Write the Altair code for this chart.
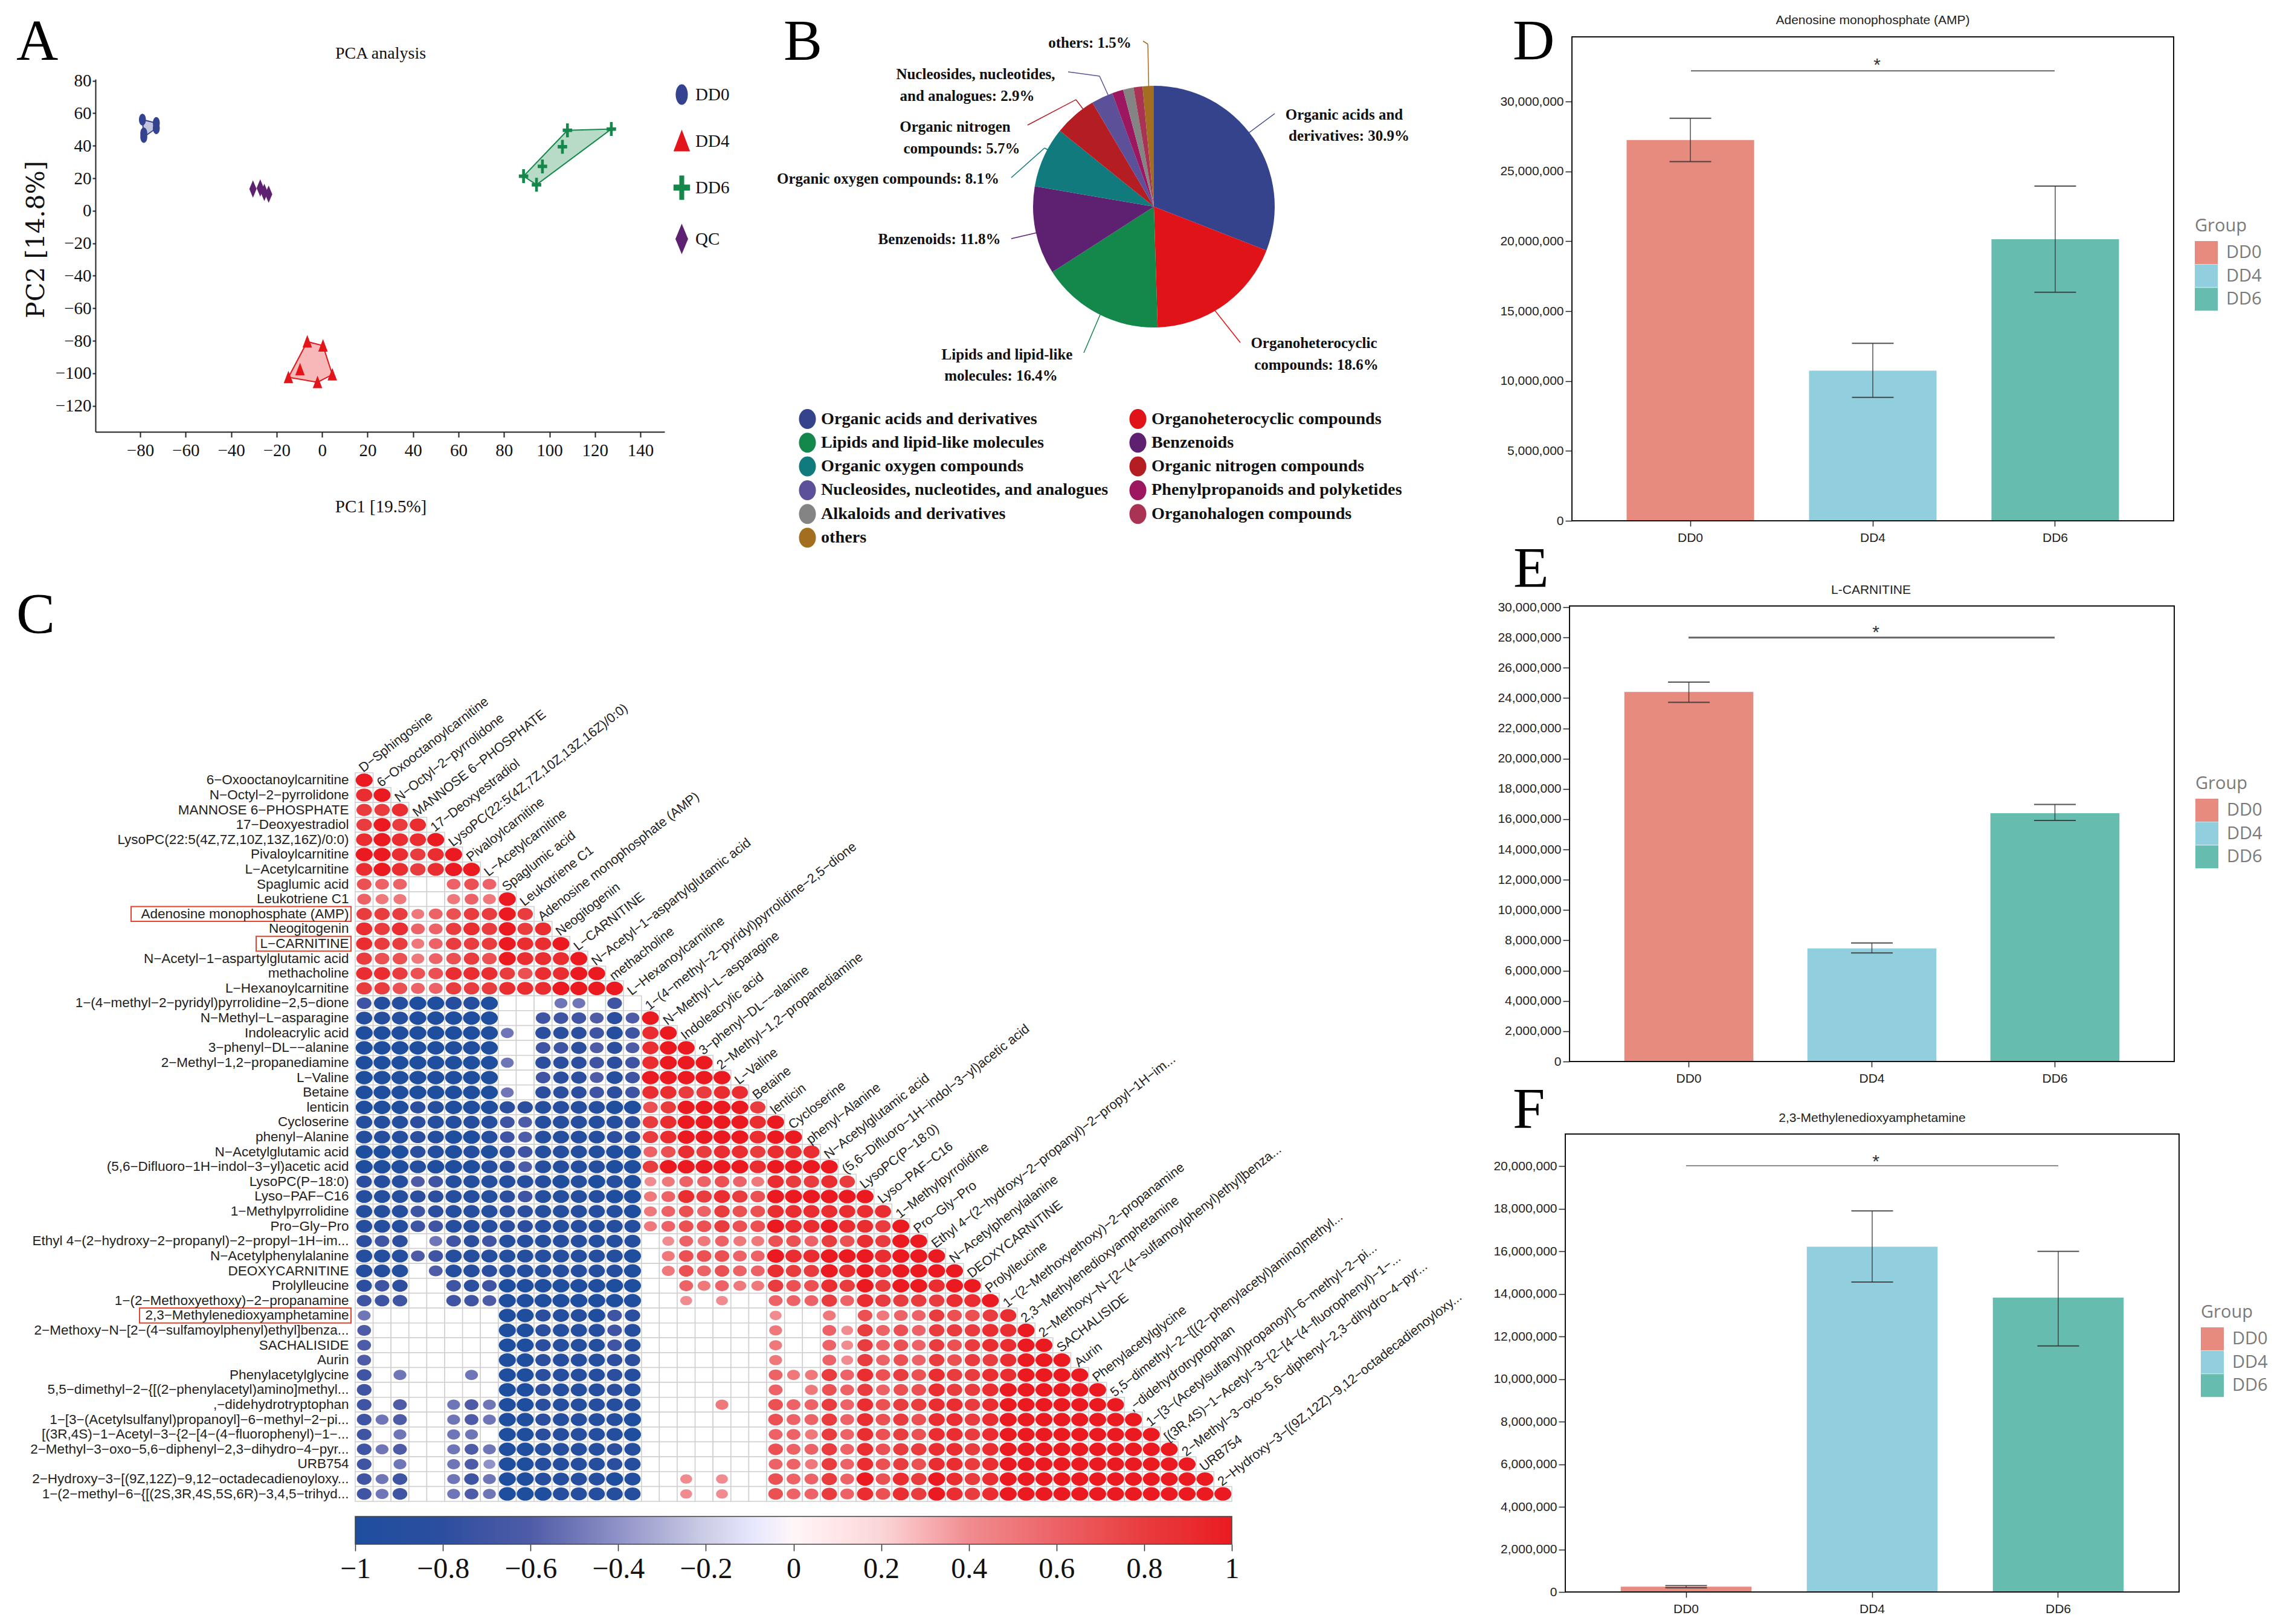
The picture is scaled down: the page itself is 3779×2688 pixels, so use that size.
import altair as alt
import pandas as pd

W, H = 3763, 2672
def X(p): return p - 8
def Y(p): return p - 8

SERIF = "Liberation Serif"
SANS = "Liberation Sans"
OPEN = "Open Sans"

# ---------- Panel A values ----------
pca_groups = ["DD0", "DD4", "DD6", "QC"]
pca_colors = ["#33438F", "#E3151B", "#14884A", "#5E2171"]
dd0_x = [-79, -78.4, -78.4, -72.9, -72.9]
dd0_y = [56.1, 47.6, 45.4, 54, 50.8]
dd4_x = [-6.5, 0.4, -9.7, -14.8, -2, 4.5]
dd4_y = [-80.5, -83, -97.6, -102.5, -105.5, -100.8]
dd6_x = [88.6, 94.3, 96.9, 105.7, 107.9, 127.2]
dd6_y = [21.3, 16, 27.3, 39.4, 49.5, 50.3]
qc_x = [-30.4, -27.2, -25.4, -23.5]
qc_y = [13.4, 14, 11.3, 10.2]
hull_dd0 = ([-79, -72.9, -72.9, -78.4], [56.1, 54, 50.8, 45.4])
hull_dd4 = ([-6.5, 0.4, 4.5, -2, -14.8], [-80.5, -83, -100.8, -105.5, -102.5])
hull_dd6 = ([88.6, 107.9, 127.2, 94.3], [21.3, 49.5, 50.3, 16])

# ---------- Panel B values ----------
pie_cats = ["Organic acids and derivatives", "Organoheterocyclic compounds",
            "Lipids and lipid-like molecules", "Benzenoids",
            "Organic oxygen compounds", "Organic nitrogen compounds",
            "Nucleosides, nucleotides, and analogues", "Phenylpropanoids and polyketides",
            "Alkaloids and derivatives", "Organohalogen compounds", "others"]
pie_vals = [30.9, 18.6, 16.4, 11.8, 8.1, 5.7, 2.9, 1.5, 1.4, 1.2, 1.5]
pie_colors = ["#34438B", "#E01318", "#14884A", "#5E2171", "#107A7C", "#B41E23",
              "#5C5098", "#9C1660", "#848484", "#A83353", "#A36E20"]

# ---------- Panel C values ----------
row_names = ["6−Oxooctanoylcarnitine", "N−Octyl−2−pyrrolidone", "MANNOSE 6−PHOSPHATE", "17−Deoxyestradiol",
             "LysoPC(22:5(4Z,7Z,10Z,13Z,16Z)/0:0)", "Pivaloylcarnitine", "L−Acetylcarnitine", "Spaglumic acid",
             "Leukotriene C1", "Adenosine monophosphate (AMP)", "Neogitogenin", "L−CARNITINE",
             "N−Acetyl−1−aspartylglutamic acid", "methacholine", "L−Hexanoylcarnitine",
             "1−(4−methyl−2−pyridyl)pyrrolidine−2,5−dione", "N−Methyl−L−asparagine", "Indoleacrylic acid",
             "3−phenyl−DL−−alanine", "2−Methyl−1,2−propanediamine", "L−Valine", "Betaine", "lenticin", "Cycloserine",
             "phenyl−Alanine", "N−Acetylglutamic acid", "(5,6−Difluoro−1H−indol−3−yl)acetic acid", "LysoPC(P−18:0)",
             "Lyso−PAF−C16", "1−Methylpyrrolidine", "Pro−Gly−Pro", "Ethyl 4−(2−hydroxy−2−propanyl)−2−propyl−1H−im...",
             "N−Acetylphenylalanine", "DEOXYCARNITINE", "Prolylleucine", "1−(2−Methoxyethoxy)−2−propanamine",
             "2,3−Methylenedioxyamphetamine", "2−Methoxy−N−[2−(4−sulfamoylphenyl)ethyl]benza...", "SACHALISIDE", "Aurin",
             "Phenylacetylglycine", "5,5−dimethyl−2−{[(2−phenylacetyl)amino]methyl...", ",−didehydrotryptophan",
             "1−[3−(Acetylsulfanyl)propanoyl]−6−methyl−2−pi...", "[(3R,4S)−1−Acetyl−3−{2−[4−(4−fluorophenyl)−1−...",
             "2−Methyl−3−oxo−5,6−diphenyl−2,3−dihydro−4−pyr...", "URB754", "2−Hydroxy−3−[(9Z,12Z)−9,12−octadecadienoyloxy...",
             "1−(2−methyl−6−{[(2S,3R,4S,5S,6R)−3,4,5−trihyd..."]
col_names = ["D−Sphingosine"] + row_names[:-1]
# digit = +r*10, X = +1, letter a..j = -0.1..-1.0, dot = blank cell
corr_rows = [
    "X", "9X", "889", "8X89", "9X99X", "XX989X", "9X989XX", "766..676", "655..565X",
    "88856788X8", "98966898X89", "98856888X99X", "87756787X999X", "998779998799XX",
    "88766888999XXXX", "giijjiij...ee.g.", "iiijjjjj..gggfhfX", "jjjjjjjje.hhhgig9X",
    "jjjjjjjj..gghfhf9XX", "jjjjjjjje.hhhghg9XXX", "jjjjjjjj..ghhfigXXXXX",
    "jjjjjjjje.hhhghg998899", "jjjhijjjhhiiiijj78XXXX8", "iiihiiiigfiiiiih89XXXX9X",
    "iiihijjigfiiiihh89XXXX9XX", "jjjhijijhgiiiijj6798998999", "jjjijjjihfiiiijj8XXXXX9XXXX",
    "hiifgiiiiiijijij456676598898", "iiihhiiihgiiiijj5698987XXXXXX", "iiighiiihhiiiiij56768779999999",
    "iiiggiiihhiiiiii5677877X99X998X", "hgh.eghgiiiiiiii.4656557768798XX",
    "iiifgiiiiiiiiiij.577766X99XXX9XXX", "iii.fiihiiiiiiij.576766988X9X9XXXX",
    "hgh..ghgjjjjjjjj..6565587798X8XX9XX", "ggg..ggfjjjjjjjj..4.4..666869888899X",
    "e.......jjhiijgh.......4..5.756687789", "f.......jjhiiigi.......5..64867688899X",
    "f.......jjhiiigi.......5..64867687899XX", "f.......jjhiiihh.......5..64867687889XXX",
    "g.e...e.jjhiiihi.......65586978798899XXXX", "g.......jjhiiihi.......6.57686779889XXXXXX",
    "g.f..efejjhiiiii....5..7668697889989XXXXXXX", "gef..efejjhiiiij.......7668697879989XXXXXXXX",
    "g.e..ee.jjhiiiij.......6658697879989XXXXXXXXX", "gef..efejjiiiihi.......7668697889989XXXXXXXXXX",
    "g.e..efdjjiiiihi.......6658697879989XXXXXXXXXXX", "geg..egejjiiiiji..4.4..76686X798X989XXXXXXXXXXXX",
    "geg..efejjjiiiii..4.4..766869798X989XXXXXXXXXXXXX",
]
boxed_rows = {"Adenosine monophosphate (AMP)": 217, "L−CARNITINE": 424, "2,3−Methylenedioxyamphetamine": 231}
cbar_ticks = [-1, -0.8, -0.6, -0.4, -0.2, 0, 0.2, 0.4, 0.6, 0.8, 1]
cbar_colors = ["#1F4E9F", "#2C4E9F", "#4E5CA7", "#8F92C7", "#CDCEE6", "#FFFFFF",
               "#FAD6D8", "#F08C90", "#EC6266", "#E83C3E", "#EA1A20"]

# ---------- Panels D, E, F values ----------
bar_groups = ["DD0", "DD4", "DD6"]
bar_colors = ["#E68B7E", "#92CFDE", "#67BCB0"]
amp_mean = [27.25e6, 10.74e6, 20.15e6]
amp_low = [25.7e6, 8.83e6, 16.35e6]
amp_high = [28.8e6, 12.7e6, 23.95e6]
car_mean = [24.41e6, 7.47e6, 16.4e6]
car_low = [23.72e6, 7.17e6, 15.92e6]
car_high = [25.05e6, 7.83e6, 16.97e6]
mda_mean = [0.246e6, 16.22e6, 13.83e6]
mda_low = [0.2e6, 14.56e6, 11.56e6]
mda_high = [0.3e6, 17.9e6, 16.0e6]

dummy = pd.DataFrame({"a": [0]})
L = []

def label(text, x, y, size, font=SERIF, weight="normal", align="center", baseline="middle", color="#111111", angle=None):
    kw = dict(text=text, font=font, fontSize=size, fontWeight=weight, align=align, baseline=baseline, color=color)
    if angle is not None:
        kw["angle"] = angle
    return alt.Chart(dummy).mark_text(**kw).encode(x=alt.value(X(x)), y=alt.value(Y(y)))

def seg(x1, y1, x2, y2, color, width=1.5):
    return alt.Chart(dummy).mark_rule(color=color, strokeWidth=width).encode(
        x=alt.value(X(x1)), y=alt.value(Y(y1)), x2=alt.value(X(x2)), y2=alt.value(Y(y2)))

# ---------- Letters ----------
for t, x, y in [("A", 27, 99), ("B", 1297, 99), ("C", 27, 1048), ("D", 2504, 99), ("E", 2505, 972), ("F", 2504, 1867)]:
    L.append(label(t, x, y, 96, align="left", baseline="alphabetic", color="#000000"))

# ---------- Panel A ----------
ax = alt.Scale(domain=[-99.66, 150.6], range=[X(158), X(1100)], nice=False, zero=False)
ay = alt.Scale(domain=[-136, 81], range=[Y(714.7), Y(131)], nice=False, zero=False)
for (hx, hy), col in [(hull_dd0, pca_colors[0]), (hull_dd4, pca_colors[1]), (hull_dd6, pca_colors[2])]:
    hd = pd.DataFrame({"x": hx, "y": hy, "i": range(len(hx))})
    L.append(alt.Chart(hd).mark_line(interpolate="linear-closed", color=col, fill=col, fillOpacity=0.3, strokeWidth=2).encode(
        x=alt.X("x:Q", scale=ax, axis=None), y=alt.Y("y:Q", scale=ay, axis=None), order="i:Q"))
pca = pd.concat([
    pd.DataFrame({"group": g, "x": xs, "y": ys})
    for g, xs, ys in [("DD0", dd0_x, dd0_y), ("DD4", dd4_x, dd4_y), ("DD6", dd6_x, dd6_y), ("QC", qc_x, qc_y)]
])
pca_shapes = ["M-0.5,0A0.5,0.85,0,1,1,0.5,0A0.5,0.85,0,1,1,-0.5,0Z",
              "M0,-0.95L0.68,0.85L-0.68,0.85Z",
              "M-0.2,-1H0.2V-0.25H0.68V0.25H0.2V1H-0.2V0.25H-0.68V-0.25H-0.2Z",
              "M0,-1.25L0.52,0L0,1.25L-0.52,0Z"]
pca_legend = alt.Legend(title=None, orient="none", legendX=X(1108), legendY=Y(136), symbolSize=1620,
                        labelFont=SERIF, labelFontSize=29, labelColor="#111111", rowPadding=39, labelOffset=2,
                        symbolStrokeWidth=0, padding=0)
L.append(alt.Chart(pca).mark_point(filled=True, opacity=1, size=529).encode(
    x=alt.X("x:Q", scale=ax, axis=alt.Axis(
        orient="bottom", offset=Y(714.7) - H, values=list(range(-80, 141, 20)), grid=False, format="d",
        title="PC1 [19.5%]", titleFont=SERIF, titleFontSize=29, titleFontWeight="normal", titleColor="#111111",
        titleX=X(630), titleY=124, titleBaseline="middle",
        labelFont=SERIF, labelFontSize=29, labelColor="#111111", labelPadding=8, tickSize=9, tickColor="#222222",
        domainColor="#222222", domainWidth=2, tickWidth=2, labelOverlap=False, labelFlush=False)),
    y=alt.Y("y:Q", scale=ay, axis=alt.Axis(
        orient="left", offset=-X(158), values=list(range(-120, 81, 20)), grid=False, format="d",
        title="PC2 [14.8%]", titleFont="DejaVu Serif", titleFontSize=41, titleFontWeight="normal", titleColor="#111111",
        titleX=60 - 158, titleY=Y(396), titleBaseline="middle", titleAngle=270,
        labelFont=SERIF, labelFontSize=29, labelColor="#111111", labelPadding=2, tickSize=5, tickColor="#222222",
        domainColor="#222222", domainWidth=2, tickWidth=2, labelOverlap=False, labelFlush=False)),
    color=alt.Color("group:N", scale=alt.Scale(domain=pca_groups, range=pca_colors), legend=pca_legend),
    shape=alt.Shape("group:N", scale=alt.Scale(domain=pca_groups, range=pca_shapes), legend=pca_legend)))
L.append(label("PCA analysis", 630, 89, 28))

# ---------- Panel B ----------
for pts, col in [
    ([(2040, 240), (2110, 188)], pie_colors[0]),
    ([(2000, 500), (2053, 567)], pie_colors[1]),
    ([(1830, 500), (1794, 584)], pie_colors[2]),
    ([(1760, 375), (1674, 395)], pie_colors[3]),
    ([(1760, 262), (1729, 245), (1674, 294)], pie_colors[4]),
    ([(1800, 190), (1781, 165), (1701, 207)], pie_colors[5]),
    ([(1840, 170), (1820, 126), (1768, 119)], pie_colors[6]),
    ([(1902, 170), (1900, 73), (1892, 68)], pie_colors[10]),
]:
    for a, b in zip(pts[:-1], pts[1:]):
        L.append(seg(a[0], a[1], b[0], b[1], col, 1.5))
pie = pd.DataFrame({"cat": pie_cats, "share": pie_vals, "i": range(len(pie_cats))})
L.append(alt.Chart(pie).mark_arc(outerRadius=200).encode(
    x=alt.value(X(1910)), y=alt.value(Y(342)),
    theta=alt.Theta("share:Q", stack=True, scale=alt.Scale(domain=[0, sum(pie_vals)], range=[0, 6.2832])),
    order=alt.Order("i:Q"),
    color=alt.Color("cat:N", scale=alt.Scale(domain=pie_cats, range=pie_colors), legend=alt.Legend(
        title=None, orient="none", legendX=X(1320), legendY=Y(677), direction="horizontal", columns=2,
        symbolType="M-0.85,0A0.85,1,0,1,1,0.85,0A0.85,1,0,1,1,-0.85,0Z", symbolSize=1089, symbolStrokeWidth=0,
        labelFont=SERIF, labelFontSize=28.2, labelFontWeight="bold", labelColor="#111111", labelLimit=700,
        rowPadding=6.3, columnPadding=32, labelOffset=6, padding=0, gridAlign="all"))))
for t, x, y in [("Organic acids and", 2225, 190), ("derivatives: 30.9%", 2233, 225),
                ("Organoheterocyclic", 2175, 568), ("compounds: 18.6%", 2179, 604),
                ("Lipids and lipid-like", 1667, 587), ("molecules: 16.4%", 1657, 622),
                ("Benzenoids: 11.8%", 1555, 396), ("Organic oxygen compounds: 8.1%", 1470, 296),
                ("Organic nitrogen", 1581, 210), ("compounds: 5.7%", 1592, 246),
                ("Nucleosides, nucleotides,", 1615, 123), ("and analogues: 2.9%", 1601, 159),
                ("others: 1.5%", 1804, 71)]:
    L.append(label(t, x, y, 25, weight="bold"))

# ---------- Panel C ----------
cx = alt.Scale(type="band", domain=col_names, range=[X(588), X(2039)], paddingInner=0, paddingOuter=0)
cy = alt.Scale(type="band", domain=row_names, range=[Y(1279), Y(2485)], paddingInner=0, paddingOuter=0)
recs = []
for i, s in enumerate(corr_rows):
    assert len(s) == i + 1, (i, len(s))
    for j, c in enumerate(s):
        if c == ".":
            v = None
        elif c == "X":
            v = 1.0
        elif c.isdigit():
            v = int(c) / 10
        else:
            v = -(ord(c) - 96) / 10
        recs.append({"row": row_names[i], "col": col_names[j], "r": v})
corr = pd.DataFrame(recs)
corr["abs_r"] = corr["r"].abs()
L.append(alt.Chart(corr).mark_rect(fill="white", stroke="#CFCFCF", strokeWidth=1.5).encode(
    x=alt.X("col:N", scale=cx, axis=None),
    y=alt.Y("row:N", scale=cy, axis=alt.Axis(
        orient="left", offset=-X(588), title=None, domain=False, ticks=False, labelPadding=11, labelFont=SANS,
        labelFontSize=22.5, labelColor="#222222", labelLimit=700, labelOverlap=False))))
ellipse = "M-1,0A1,0.79,0,1,1,1,0A1,0.79,0,1,1,-1,0Z"
L.append(alt.Chart(corr.dropna(subset=["r"])).mark_point(filled=True, opacity=1, shape=ellipse).encode(
    x=alt.X("col:N", scale=cx, axis=None),
    y=alt.Y("row:N", scale=cy, axis=None),
    size=alt.Size("abs_r:Q", scale=alt.Scale(domain=[0, 1], range=[120, 790]), legend=None),
    color=alt.Color("r:Q", scale=alt.Scale(domain=cbar_ticks, range=cbar_colors), legend=alt.Legend(
        type="gradient", title=None, orient="none", direction="horizontal", legendX=X(588), legendY=Y(2510),
        gradientLength=1451, gradientThickness=46, gradientStrokeColor="#444444", gradientStrokeWidth=1.5,
        labelExpr="''", padding=0))))
for name, left in boxed_rows.items():
    L.append(alt.Chart(pd.DataFrame({"row": [name]})).mark_rect(fill="transparent", stroke="#E2452F", strokeWidth=2).encode(
        x=alt.value(X(left)), x2=alt.value(X(581)), y=alt.Y("row:N", scale=cy, axis=None)))
top = pd.DataFrame({"col": col_names, "row": row_names})
L.append(alt.Chart(top).mark_text(align="left", baseline="middle", angle=322, font=SANS, fontSize=21.7, color="#222222", dy=-7).encode(
    x=alt.X("col:N", scale=cx, axis=None, bandPosition=0.45),
    y=alt.Y("row:N", scale=cy, axis=None, bandPosition=0),
    text="col:N"))
L.append(alt.Chart(pd.DataFrame({"v": cbar_ticks})).mark_tick(opacity=0).encode(
    x=alt.X("v:Q", scale=alt.Scale(domain=[-1, 1], range=[X(588), X(2039)], nice=False, zero=False), axis=alt.Axis(
        orient="bottom", offset=Y(2556) - H, values=cbar_ticks, format="~g", title=None, grid=False, domain=False,
        tickSize=11, tickColor="#333333", tickWidth=1.5, labelFont=SERIF, labelFontSize=48, labelColor="#111111",
        labelPadding=6, labelOverlap=False, labelFlush=False, labelBound=False))))

# ---------- Panels D, E, F ----------
def bar_panel(title, tx, ty, mean, low, high, left, right, top_px, bottom, dmax, ticks, pad_in, pad_out,
              sig, sig_x, sig_w, star_x, star_y, lx, ly, xlabel_pad):
    x_s = alt.Scale(type="band", domain=bar_groups, range=[X(left), X(right)], paddingInner=pad_in, paddingOuter=pad_out)
    y_s = alt.Scale(domain=[0, dmax], range=[Y(bottom), Y(top_px)], nice=False, zero=False)
    d = pd.DataFrame({"g": bar_groups, "mean": mean, "low": low, "high": high})
    out = []
    out.append(alt.Chart(d).mark_bar(opacity=1).encode(
        x=alt.X("g:N", scale=x_s, axis=alt.Axis(
            orient="bottom", offset=Y(bottom) - H, title=None, labelAngle=0, labelFont=SANS, labelFontSize=21,
            labelColor="#222222", tickColor="#222222", tickSize=9, tickWidth=1.5, labelPadding=xlabel_pad, domain=False)),
        y=alt.Y("mean:Q", scale=y_s, axis=alt.Axis(
            orient="left", offset=-X(left), title=None, values=ticks, format=",d", grid=False, domain=False,
            labelFont=SANS, labelFontSize=21, labelColor="#222222", tickColor="#222222", tickSize=11, tickWidth=1.5,
            labelPadding=3, labelOverlap=False, labelFlush=False)),
        color=alt.Color("g:N", scale=alt.Scale(domain=bar_groups, range=bar_colors), legend=alt.Legend(
            title="Group", orient="none", legendX=X(lx), legendY=Y(ly), titleFont=OPEN, titleFontSize=29,
            titleFontWeight="normal", titleColor="#7A7A7A", titlePadding=10, labelFont=OPEN, labelFontSize=29,
            labelColor="#7A7A7A", symbolType="square", symbolSize=1444, symbolStrokeWidth=0, rowPadding=0.6,
            labelOffset=14, padding=0, symbolOpacity=1))))
    out.append(alt.Chart(d).mark_rule(color="#333333", strokeWidth=1.5, opacity=0.85).encode(
        x=alt.X("g:N", scale=x_s, axis=None), y=alt.Y("low:Q", scale=y_s, axis=None), y2="high:Q"))
    for f in ["low", "high"]:
        out.append(alt.Chart(d).mark_tick(orient="horizontal", color="#333333", size=69, thickness=2, opacity=0.85).encode(
            x=alt.X("g:N", scale=x_s, axis=None), y=alt.Y(f + ":Q", scale=y_s, axis=None)))
    out.append(alt.Chart(dummy).mark_rule(color="#666666", strokeWidth=sig_w).encode(
        y=alt.Y(datum=sig, scale=y_s, axis=None), x=alt.value(X(sig_x[0])), x2=alt.value(X(sig_x[1]))))
    out.append(alt.Chart(dummy).mark_rect(fill="transparent", stroke="#111111", strokeWidth=2).encode(
        x=alt.value(X(left)), x2=alt.value(X(right)), y=alt.value(Y(top_px)), y2=alt.value(Y(bottom))))
    out.append(label("*", star_x, star_y, 30, font=SANS, color="#333333"))
    out.append(label(title, tx, ty, 21, font=SANS, color="#222222"))
    return out

L += bar_panel("Adenosine monophosphate (AMP)", 3100, 34, amp_mean, amp_low, amp_high, 2602, 3598, 61, 862, 34.63e6,
               [0, 5000000, 10000000, 15000000, 20000000, 25000000, 30000000], 0.301, 0.2997, 32.2e6, (2799, 3401), 2,
               3107, 108, 3633, 360, 8)
L += bar_panel("L-CARNITINE", 3097, 977, car_mean, car_low, car_high, 2598, 3599, 1003, 1757, 30.08e6,
               [i * 2000000 for i in range(16)], 0.295, 0.2995, 28.0e6, (2795, 3401), 3,
               3105, 1047, 3634, 1283, 8)
L += bar_panel("2,3-Methylenedioxyamphetamine", 3099, 1851, mda_mean, mda_low, mda_high, 2591, 3607, 1877, 2635, 21.51e6,
               [i * 2000000 for i in range(11)], 0.297, 0.298, 20.02e6, (2791, 3407), 1.5,
               3105, 1923, 3643, 2158, 8)

chart = alt.layer(*L).properties(
    width=W, height=H, padding=0, autosize=alt.AutoSizeParams(type="none"), background="white"
).resolve_scale(
    x="independent", y="independent", color="independent", shape="independent", size="independent", theta="independent"
).configure_view(stroke=None)

chart.save("out.html", embed_options={"renderer": "svg", "actions": False})
